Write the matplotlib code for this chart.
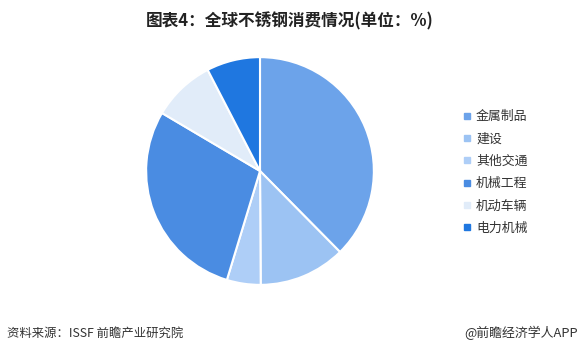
import matplotlib
matplotlib.use("Agg")
import matplotlib.pyplot as plt
from matplotlib.lines import Line2D

plt.rcParams['font.family'] = ['Noto Sans CJK SC', 'DejaVu Sans']

# data (ISSF, share of stainless steel consumption, %)
categories = ["金属制品", "建设", "其他交通", "机械工程", "机动车辆", "电力机械"]
shares = [37.6, 12.3, 4.8, 28.8, 8.9, 7.6]
colors = ["#6ca3ea", "#9cc3f3", "#aecef7", "#4a8ce2", "#e1ecf9", "#1f77e0"]

title = "图表4：全球不锈钢消费情况(单位：%)"
source = "资料来源：ISSF 前瞻产业研究院"
credit = "@前瞻经济学人APP"

W, H = 582, 354
fig = plt.figure(figsize=(W / 100, H / 100), dpi=100)
fig.patch.set_facecolor("white")

# pie: centre (260, 171) px, radius 115 px
cx, cy, r = 260, 171, 115
ax = fig.add_axes([(cx - r) / W, (H - cy - r) / H, 2 * r / W, 2 * r / H])
ax.pie(shares, colors=colors, startangle=90, counterclock=False,
       wedgeprops=dict(edgecolor="white", linewidth=1.5))
ax.set_xlim(-1.01, 1.01)
ax.set_ylim(-1.01, 1.01)
ax.set_aspect("equal")
ax.axis("off")

# legend
handles = [Line2D([], [], marker="s", linestyle="none", markersize=4.5,
                  markerfacecolor=c, markeredgecolor=c) for c in colors]
fig.legend(handles, categories, loc="upper left",
           bbox_to_anchor=(458 / W, 1 - 105 / H), frameon=False,
           fontsize=9.3, labelcolor="#333333", handlelength=0.6,
           handletextpad=0.4, labelspacing=0.72, borderaxespad=0)

fig.text(290 / W, 1 - 21 / H, title, ha="center", va="center",
         fontsize=12, fontweight="bold", color="#222222")
fig.text(7 / W, 1 - 333 / H, source, ha="left", va="center",
         fontsize=8.9, color="#333333")
fig.text(578 / W, 1 - 333 / H, credit, ha="right", va="center",
         fontsize=9.3, color="#333333")

fig.savefig("out.png", dpi=100)
